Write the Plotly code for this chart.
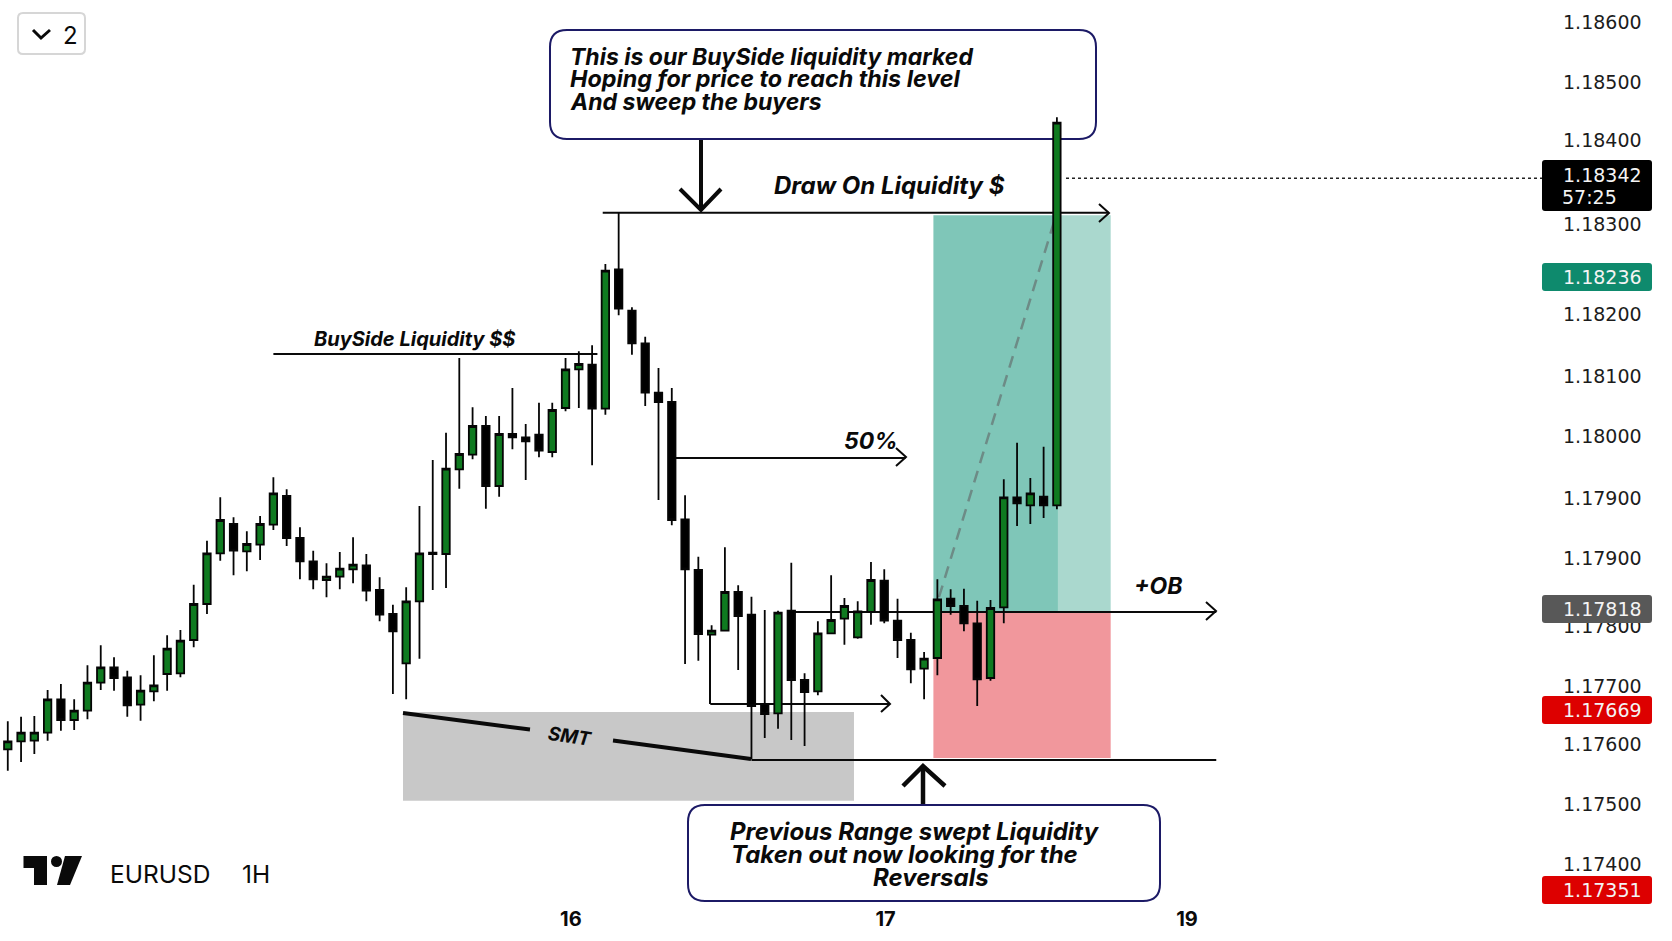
import plotly.graph_objects as go

# EURUSD 1H candles
opens = [1.17472, 1.17509, 1.17521, 1.17522, 1.17534, 1.17584, 1.17553, 1.17567, 1.17609, 1.17632,
         1.17617, 1.17576, 1.17596, 1.17622, 1.17623, 1.17673, 1.17727, 1.17803, 1.17847, 1.17806,
         1.17816, 1.17846, 1.17889, 1.17826, 1.17791, 1.17763, 1.17768, 1.17779, 1.17785, 1.17748,
         1.17712, 1.17638, 1.17731, 1.17804, 1.17802, 1.17929, 1.17951, 1.17994, 1.17904, 1.17982,
         1.17977, 1.17981, 1.17955, 1.18021, 1.18079, 1.18086, 1.18020, 1.18229, 1.18167, 1.18118,
         1.18044, 1.18030, 1.17854, 1.17778, 1.17681, 1.17687, 1.17745, 1.17711, 1.17577, 1.17563,
         1.17717, 1.17613, 1.17596, 1.17683, 1.17705, 1.17677, 1.17715, 1.17762, 1.17702, 1.17673,
         1.17630, 1.17646, 1.17735, 1.17724, 1.17698, 1.17616, 1.17722, 1.17887, 1.17875, 1.17888,
         1.17875]
highs = [1.17518, 1.17551, 1.17558, 1.17559, 1.17598, 1.17607, 1.17584, 1.17635, 1.17665, 1.17647,
         1.17627, 1.17620, 1.17650, 1.17680, 1.17688, 1.17756, 1.17822, 1.17887, 1.17857, 1.17836,
         1.17859, 1.17917, 1.17899, 1.17842, 1.17807, 1.17788, 1.17805, 1.17827, 1.17802, 1.17767,
         1.17726, 1.17752, 1.17874, 1.17943, 1.17984, 1.18096, 1.18022, 1.18009, 1.18009, 1.18051,
         1.17997, 1.18029, 1.18029, 1.18096, 1.18106, 1.18115, 1.18237, 1.18314, 1.18172, 1.18128,
         1.18081, 1.18051, 1.17890, 1.17798, 1.17695, 1.17812, 1.17755, 1.17738, 1.17718, 1.17717,
         1.17789, 1.17623, 1.17701, 1.17770, 1.17736, 1.17731, 1.17790, 1.17779, 1.17735, 1.17684,
         1.17655, 1.17764, 1.17749, 1.17750, 1.17732, 1.17733, 1.17914, 1.17969, 1.17916, 1.17963,
         1.18457]
lows = [1.17469, 1.17477, 1.17490, 1.17502, 1.17522, 1.17537, 1.17538, 1.17554, 1.17598, 1.17597,
        1.17558, 1.17552, 1.17581, 1.17597, 1.17617, 1.17662, 1.17712, 1.17792, 1.17770, 1.17776,
        1.17793, 1.17838, 1.17814, 1.17764, 1.17749, 1.17737, 1.17749, 1.17758, 1.17731, 1.17701,
        1.17592, 1.17584, 1.17645, 1.17748, 1.17751, 1.17900, 1.17944, 1.17870, 1.17888, 1.17959,
        1.17913, 1.17947, 1.17947, 1.18016, 1.18021, 1.17935, 1.18011, 1.18160, 1.18101, 1.18024,
        1.17883, 1.17845, 1.17637, 1.17642, 1.17681, 1.17686, 1.17628, 1.17494, 1.17526, 1.17540,
        1.17523, 1.17514, 1.17590, 1.17682, 1.17666, 1.17675, 1.17696, 1.17698, 1.17646, 1.17608,
        1.17584, 1.17620, 1.17711, 1.17686, 1.17574, 1.17612, 1.17698, 1.17844, 1.17847, 1.17856,
        1.17869]
closes = [1.17513, 1.17521, 1.17534, 1.17534, 1.17584, 1.17553, 1.17567, 1.17609, 1.17632, 1.17616,
          1.17575, 1.17597, 1.17605, 1.17660, 1.17672, 1.17727, 1.17803, 1.17853, 1.17807, 1.17817,
          1.17847, 1.17893, 1.17826, 1.17791, 1.17764, 1.17768, 1.17780, 1.17786, 1.17747, 1.17711,
          1.17686, 1.17731, 1.17803, 1.17802, 1.17930, 1.17952, 1.17994, 1.17904, 1.17982, 1.17977,
          1.17971, 1.17957, 1.18018, 1.18079, 1.18087, 1.18020, 1.18227, 1.18170, 1.18118, 1.18044,
          1.18030, 1.17853, 1.17779, 1.17682, 1.17687, 1.17745, 1.17709, 1.17574, 1.17562, 1.17714,
          1.17613, 1.17595, 1.17683, 1.17703, 1.17724, 1.17716, 1.17763, 1.17702, 1.17673, 1.17629,
          1.17645, 1.17734, 1.17724, 1.17698, 1.17614, 1.17721, 1.17887, 1.17878, 1.17893, 1.17875,
          1.18449]
bars = list(range(len(opens)))

# price scale labels (the picture repeats 1.17900)
tick_text = ["1.18600", "1.18500", "1.18400", "1.18300", "1.18200", "1.18100", "1.18000",
             "1.17900", "1.17900", "1.17800", "1.17700", "1.17600", "1.17500", "1.17400"]
tick_vals = [1.18600, 1.18510, 1.18423, 1.18296, 1.18162, 1.18069, 1.17978,
             1.17886, 1.17795, 1.17693, 1.17604, 1.17516, 1.17427, 1.17336]
day_labels = ["16", "17", "19"]
day_bars = [43.4, 67.1, 89.8]

# levels and zones
draw_level = 1.18314
ob_level = 1.17715
stop_level = 1.17493
buyside_level = 1.18102
half_level = 1.17946
range_level = 1.17577
tp_top = 1.18310
sl_bottom = 1.17496
smt_top = 1.17565
smt_bottom = 1.17432
zone_start, zone_mid, zone_end = 70.7, 80.08, 84.05
smt_start, smt_end = 30.76, 64.72

PAGE_W, PAGE_H = 1672, 941
PLOT_W, PLOT_H = 1556, 905
X0, STEP = -5.5, 13.28
Y_TOP, Y_BOT = 1.18633, 1.172755
INK = "#0a0a0a"


def xp(px):
    return px / PLOT_W


def yp(py):
    return 1 - py / PLOT_H


# same spot as xp/yp but on the axes, so it stacks above the zones
def xd(px):
    return (px - X0) / STEP


def yd(py):
    return Y_TOP - (Y_TOP - Y_BOT) * py / PLOT_H


def round_rect(x0, y0, x1, y1, r):
    q = [(x0 + r, y0), (x1 - r, y0), (x1, y0), (x1, y0 + r), (x1, y1 - r), (x1, y1),
         (x1 - r, y1), (x0 + r, y1), (x0, y1), (x0, y1 - r), (x0, y0 + r), (x0, y0), (x0 + r, y0)]
    f = lambda p: f"{xp(p[0]):.5f},{yp(p[1]):.5f}"
    return (f"M{f(q[0])} L{f(q[1])} Q{f(q[2])} {f(q[3])} L{f(q[4])} Q{f(q[5])} {f(q[6])} "
            f"L{f(q[7])} Q{f(q[8])} {f(q[9])} L{f(q[10])} Q{f(q[11])} {f(q[12])} Z")


fig = go.Figure(go.Candlestick(
    x=bars, open=opens, high=highs, low=lows, close=closes,
    increasing=dict(line=dict(color="#050505", width=1.8), fillcolor="#0f7a20"),
    decreasing=dict(line=dict(color="#050505", width=1.8), fillcolor="#000000"),
    whiskerwidth=0, hoverinfo="skip", showlegend=False,
))

shapes = []


def pixel_path(d, line=None, fill=None, layer="below"):
    shapes.append(dict(type="path", path=d, xref="paper", yref="paper", layer=layer,
                       line=line or dict(width=0), fillcolor=fill))


def polygon(points, fill):
    d = "M" + " L".join(f"{xp(x):.5f},{yp(y):.5f}" for x, y in points) + " Z"
    pixel_path(d, fill=fill)


def stroke(points, width=2, color=INK, dash=None):
    d = "M" + " L".join(f"{xd(x):.4f},{yd(y):.6f}" for x, y in points)
    shapes.append(dict(type="path", path=d, xref="x", yref="y", layer="below",
                       line=dict(color=color, width=width, dash=dash)))


def zone(x0, x1, y0, y1, color):
    shapes.append(dict(type="rect", xref="x", yref="y", x0=x0, x1=x1, y0=y0, y1=y1,
                       fillcolor=color, line=dict(width=0), layer="below"))


def level(x0, x1, y, width=2):
    shapes.append(dict(type="line", xref="x", yref="y", x0=x0, x1=x1, y0=y, y1=y,
                       line=dict(color=INK, width=width), layer="below"))


# long/short position and SMT zone
zone(smt_start, smt_end, smt_bottom, smt_top, "#c8c8c8")
zone(zone_start, zone_mid, ob_level, tp_top, "#7fc6b8")
zone(zone_mid, zone_end, ob_level, tp_top, "#aad8ce")
zone(zone_start, zone_end, sl_bottom, ob_level, "#f1979c")

# horizontal levels with their chevrons
level(45.8, 83.9, draw_level)
stroke([(1099, 204), (1109, 213), (1099, 222)])
level(59.9, 92.0, ob_level)
stroke([(1206, 602), (1216, 611), (1206, 620)])
level(57.0, 92.0, stop_level)
level(21.0, 45.4, buyside_level)
level(51.2, 68.6, half_level)
stroke([(896, 448), (906, 457), (896, 466)])
level(53.9, 67.4, range_level)
stroke([(710, 635), (710, 704)])
stroke([(881, 695), (890, 704), (881, 712)])

# SMT divergence line, broken around its label
stroke([(403, 713), (530, 729.6)], width=4)
stroke([(613, 740.6), (751, 759)], width=4)

# measure line of the position
stroke([(939, 597), (1054, 222)], width=2.5, color="#6d8b86", dash="12px,8px")
# current price line
stroke([(1066, 178.3), (1542, 178.3)], width=1.5, color="#222222", dash="dot")

# callout boxes and their arrows
pixel_path(round_rect(550, 30, 1096, 139, 17), dict(color="#1c1a66", width=2), "#ffffff")
pixel_path(round_rect(688, 805, 1160, 901, 17), dict(color="#1c1a66", width=2), "#ffffff")
stroke([(701, 140), (701, 210)], width=4)
stroke([(680, 189), (701, 210), (721, 189)], width=4)
stroke([(923, 804), (923, 766)], width=4.5)
stroke([(903, 786), (923, 766), (945, 786)], width=4.5)

# collapse button
pixel_path(round_rect(18, 13, 85, 54, 5), dict(color="#d6d6d6", width=2), "#ffffff")
stroke([(33, 30), (41, 38), (50, 30)], width=3)

# TradingView mark
polygon([(23.5, 856), (47, 856), (47, 885), (34, 885), (34, 868), (23.5, 868)], "#0a0a0a")
polygon([(65, 856), (82, 856), (70, 885), (57, 885)], "#0a0a0a")
shapes.append(dict(type="circle", xref="paper", yref="paper", x0=xp(51), x1=xp(62), y0=yp(867), y1=yp(856),
                   fillcolor="#0a0a0a", line=dict(width=0), layer="below"))

# price badges sit over the axis text
for y0, y1, col in [(160, 211, "#000000"), (263, 291, "#0e8a6d"), (595, 623, "#585858"),
                    (696, 724, "#dd0000"), (876, 904, "#dd0000")]:
    pixel_path(round_rect(1542, y0, 1652, y1, 3), fill=col, layer="above")


def label(text, x, y, size, color=INK, bold=True, italic=True, anchor="left", angle=0, family="Inter"):
    fig.add_annotation(
        text=text, xref="paper", yref="paper", x=xp(x), y=yp(y), xanchor=anchor, yanchor="middle",
        showarrow=False, textangle=angle, borderpad=0,
        font=dict(family=family, size=size, color=color,
                  weight="bold" if bold else "normal", style="italic" if italic else "normal"),
    )


upper_lines = ["This is our BuySide liquidity marked", "Hoping for price to reach this level", "And sweep the buyers"]
for line_text, size, y in zip(upper_lines, [23, 23.3, 23], [57, 79, 102]):
    label(line_text, 569, y, size)
lower_lines = ["Previous Range swept Liquidity", "Taken out now looking for the", "Reversals"]
for line_text, x, y in zip(lower_lines, [729, 730, 872], [831, 854, 877]):
    label(line_text, x, y, 24)
label("Draw On Liquidity $", 773, 185, 24)
label("BuySide Liquidity $$", 313, 339, 20)
label("50%", 843, 441, 23)
label("+OB", 1133, 586, 23)
label("SMT", 570, 736, 19, anchor="center", angle=8)
label("EURUSD", 109, 874, 24.5, bold=False, italic=False)
label("1H", 241, 874, 24.5, bold=False, italic=False)
label("2", 70, 35, 24, bold=False, italic=False, anchor="center")

AXIS_FONT = "DejaVu Sans"
for badge_text, y in [("1.18342", 175), ("1.18236", 277), ("1.17818", 609), ("1.17669", 710), ("1.17351", 890)]:
    label(badge_text, 1562, y, 19, color="#f4f4f4", bold=False, italic=False, family=AXIS_FONT)
label("57:25", 1561, 197, 19, color="#f4f4f4", bold=False, italic=False, family=AXIS_FONT)

fig.update_layout(
    width=PAGE_W, height=PAGE_H, autosize=False,
    margin=dict(l=0, r=PAGE_W - PLOT_W, t=0, b=PAGE_H - PLOT_H, autoexpand=False),
    paper_bgcolor="#ffffff", plot_bgcolor="#ffffff",
    shapes=shapes, showlegend=False, boxgap=0.2,
    xaxis=dict(range=[xd(0), xd(PLOT_W)], rangeslider=dict(visible=False),
               tickmode="array", tickvals=day_bars, ticktext=day_labels, ticklen=0,
               showgrid=False, zeroline=False, showline=False,
               tickfont=dict(family="Inter", size=20, color=INK, weight="bold")),
    yaxis=dict(range=[Y_BOT, Y_TOP], side="right", tickmode="array", tickvals=tick_vals, ticktext=tick_text,
               ticklen=0, ticklabelstandoff=6, showgrid=False, zeroline=False, showline=False,
               tickfont=dict(family=AXIS_FONT, size=19, color="#1c1c1c")),
)

fig.write_html("out.html", config=dict(displayModeBar=False), post_script="document.body.style.margin='0';")
